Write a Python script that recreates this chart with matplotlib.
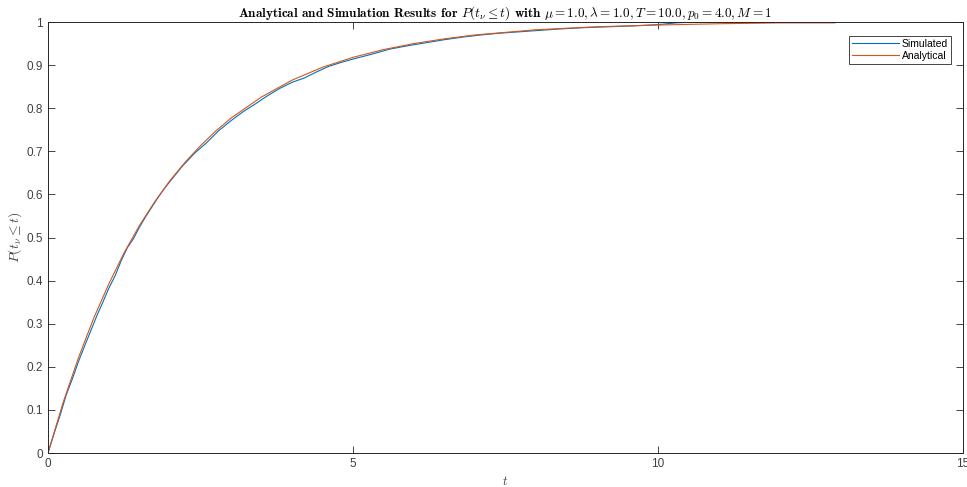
import matplotlib
matplotlib.use("Agg")
import matplotlib.pyplot as plt

# values
t_sim = [0, 0.1, 0.2, 0.3, 0.4, 0.5, 0.6, 0.7, 0.8, 0.9, 1.0, 1.1, 1.2, 1.3, 1.4,
         1.5, 1.6, 1.7, 1.8, 1.9, 2.0, 2.2, 2.4, 2.6, 2.8, 3.0, 3.2, 3.4, 3.6, 3.8,
         4.0, 4.2, 4.4, 4.6, 4.8, 5.0, 5.3, 5.6, 5.9, 6.2, 6.5, 6.8, 7.1, 7.4, 7.7,
         8.0, 8.4, 8.8, 9.2, 9.6, 10.0, 10.3, 10.6, 11.0, 11.9]
p_sim = [0, 0.045, 0.088, 0.135, 0.172, 0.212, 0.248, 0.283, 0.318, 0.350, 0.383,
         0.411, 0.446, 0.476, 0.497, 0.524, 0.548, 0.570, 0.592, 0.612, 0.630,
         0.665, 0.695, 0.720, 0.748, 0.771, 0.792, 0.810, 0.829, 0.846, 0.860,
         0.870, 0.884, 0.897, 0.906, 0.914, 0.925, 0.937, 0.945, 0.952, 0.959,
         0.965, 0.970, 0.974, 0.977, 0.980, 0.984, 0.987, 0.989, 0.991, 0.994,
         0.998, 1.0, 1.0, 1.0]

t_ana = [0, 0.25, 0.5, 0.75, 1.0, 1.25, 1.5, 1.75, 2.0, 2.25, 2.5, 2.75, 3.0, 3.5,
         4.0, 4.5, 5.0, 5.5, 6.0, 6.5, 7.0, 7.5, 8.0, 9.0, 10.0, 11.0, 12.0, 12.9]
p_ana = [0, 0.118, 0.221, 0.313, 0.393, 0.465, 0.528, 0.583, 0.632, 0.675, 0.713,
         0.747, 0.777, 0.826, 0.865, 0.895, 0.918, 0.936, 0.950, 0.961, 0.970,
         0.976, 0.982, 0.989, 0.993, 0.996, 0.998, 0.998]

xticks = [0, 5, 10, 15]
yticks = [0, 0.1, 0.2, 0.3, 0.4, 0.5, 0.6, 0.7, 0.8, 0.9, 1]
yticklabels = ['0', '0.1', '0.2', '0.3', '0.4', '0.5', '0.6', '0.7', '0.8', '0.9', '1']

plt.rcParams['mathtext.fontset'] = 'cm'
plt.rcParams['font.family'] = ['Liberation Sans', 'DejaVu Sans']

fig = plt.figure(figsize=(9.67, 4.87), dpi=100)
ax = fig.add_axes([0.0496, 0.0698, 0.9463, 0.885])

ax.plot(t_sim, p_sim, color='#0072BD', lw=0.8, label='Simulated')
ax.plot(t_ana, p_ana, color='#D95319', lw=0.8, label='Analytical')

ax.set_xlim(0, 15)
ax.set_ylim(0, 1)
ax.set_xticks(xticks)
ax.set_xticklabels([str(v) for v in xticks])
ax.set_yticks(yticks)
ax.set_yticklabels(yticklabels)
ax.tick_params(direction='in', top=True, right=True, length=5, width=0.6,
               labelsize=8.5, colors='#262626', labelcolor='#404040')
for s in ax.spines.values():
    s.set_linewidth(0.7)
    s.set_color('#262626')

ax.set_title(r'Analytical and Simulation Results for $P(t_\nu \leq t)$ with '
             r'$\mu = 1.0, \lambda = 1.0, T = 10.0, p_0 = 4.0, M = 1$',
             fontsize=9.5, family='cmb10', pad=4)
ax.set_xlabel(r'$t$', fontsize=9, color='#404040', labelpad=4)
ax.set_ylabel(r'$P(t_\nu \leq t)$', fontsize=10, color='#404040', labelpad=2)

leg = ax.legend(loc='upper right', fontsize=7.5, fancybox=False, framealpha=1,
                edgecolor='#262626', handlelength=4.5, handletextpad=0.3,
                borderpad=0.3, labelspacing=0.2, bbox_to_anchor=(0.993, 0.98))
leg.get_frame().set_linewidth(0.6)

fig.savefig('out.png', dpi=100)
